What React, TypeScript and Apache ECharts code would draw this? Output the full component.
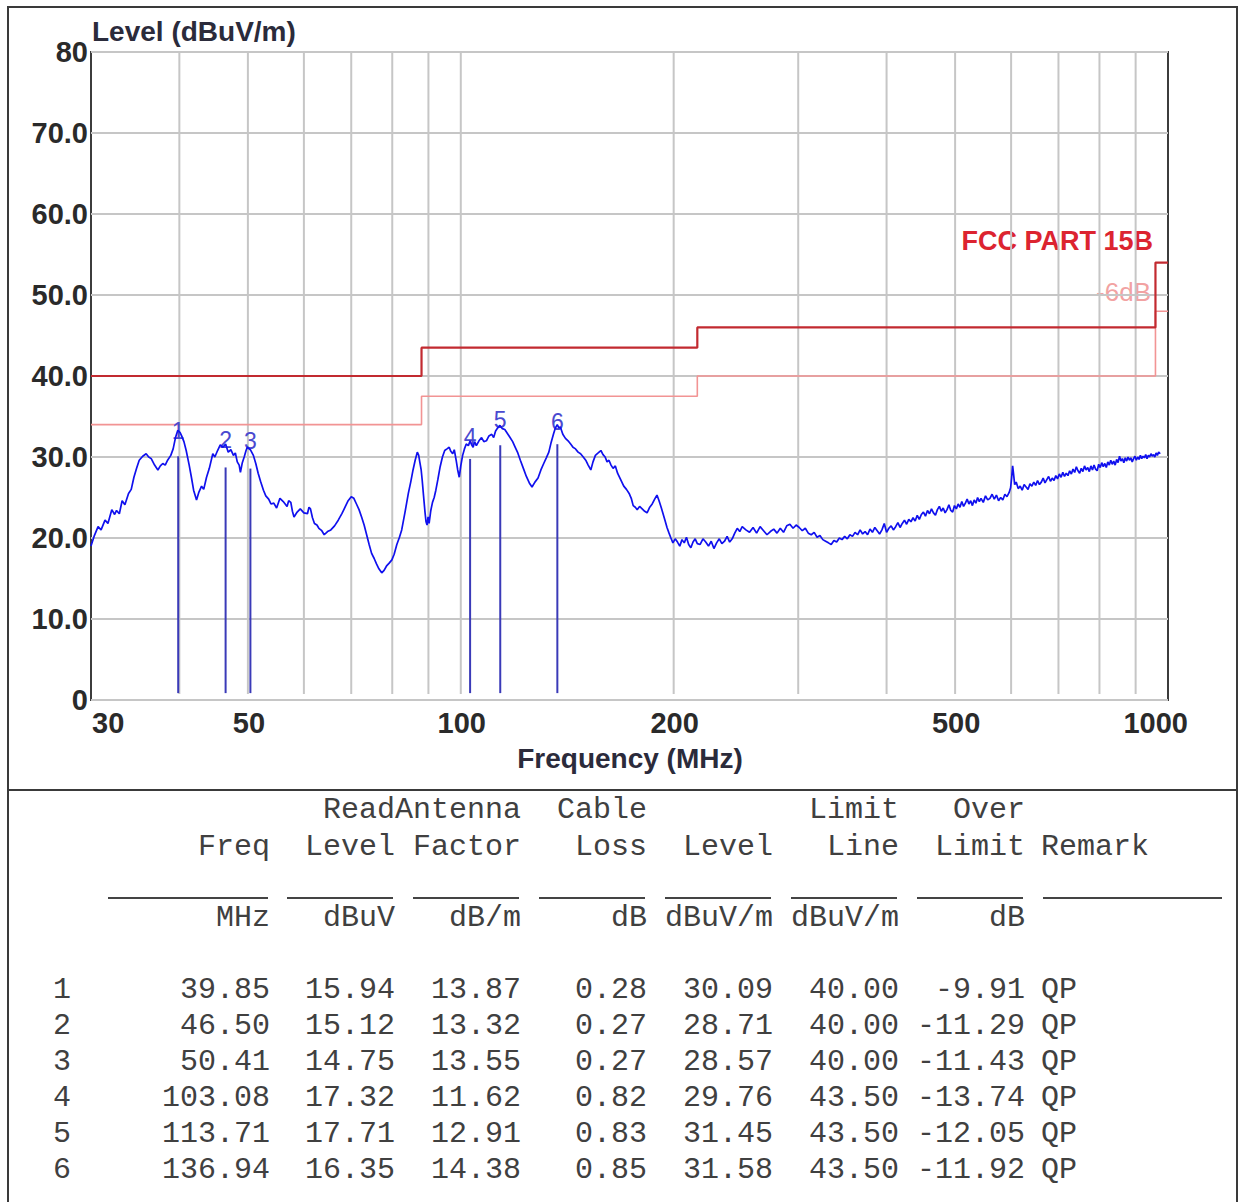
import React, { useEffect, useRef } from "react";
import * as echarts from "echarts";

// ---- trace (peak scan): [frequency MHz, level dBuV/m] ----
const tracePoints: [number, number][] = [
  [30, 19.0], [30.3, 20.2], [30.7, 21.4], [31.0, 21.0], [31.4, 22.2], [31.7, 21.8], [32.1, 23.5], [32.4, 22.9],
  [32.6, 23.4], [32.9, 23.0], [33.2, 24.6], [33.5, 24.1], [33.9, 25.5], [34.2, 26.0], [34.5, 27.5], [34.8, 28.6],
  [35.1, 29.6], [35.5, 30.1], [35.9, 30.4], [36.2, 30.0], [36.5, 29.8], [36.9, 29.0], [37.3, 28.4], [37.6, 28.9],
  [37.9, 29.2], [38.2, 29.0], [38.5, 29.6], [38.9, 30.2], [39.2, 31.0], [39.5, 32.4], [39.8, 33.3], [40.1, 33.0],
  [40.3, 32.6], [40.6, 31.9], [40.9, 30.8], [41.3, 29.0], [41.6, 27.5], [41.9, 25.9], [42.3, 24.7], [42.6, 25.6],
  [43.0, 26.4], [43.3, 26.0], [43.7, 27.5], [44.1, 28.6], [44.6, 30.4], [44.9, 30.0], [45.3, 30.8], [45.7, 31.5],
  [46.1, 31.2], [46.5, 31.6], [46.9, 30.6], [47.3, 30.9], [47.7, 30.2], [48.0, 30.5], [48.3, 29.4], [48.6, 29.0],
  [48.8, 28.1], [49.1, 29.3], [49.4, 30.0], [49.7, 30.8], [49.9, 31.2], [50.4, 30.9], [50.9, 30.2], [51.3, 29.2],
  [51.7, 28.0], [52.1, 27.0], [52.6, 25.9], [53.0, 25.2], [53.5, 24.8], [53.9, 24.2], [54.4, 24.3], [54.9, 23.7],
  [55.5, 24.9], [56.1, 24.5], [56.8, 23.9], [57.1, 24.6], [57.5, 24.4], [57.8, 23.3], [58.1, 22.6], [58.7, 23.2],
  [59.3, 23.6], [60.0, 23.1], [60.7, 23.0], [61.0, 23.8], [61.3, 23.6], [61.7, 22.5], [62.1, 21.8], [62.6, 21.6],
  [63.0, 21.2], [63.6, 20.9], [64.1, 20.4], [64.8, 20.8], [65.5, 21.0], [66.3, 21.5], [67.1, 22.2], [67.9, 23.0],
  [68.6, 23.8], [69.3, 24.6], [70.0, 25.1], [70.6, 24.9], [71.2, 24.2], [71.8, 23.5], [72.4, 22.6], [73.0, 21.6],
  [73.6, 20.4], [74.2, 19.2], [74.8, 18.1], [75.4, 17.5], [76.0, 16.8], [76.6, 16.2], [77.3, 15.7], [77.9, 16.0],
  [78.6, 16.6], [79.2, 16.9], [79.9, 17.3], [80.5, 18.0], [81.2, 19.2], [81.9, 20.1], [82.5, 21.0], [83.4, 23.2],
  [84.3, 25.5], [85.0, 27.0], [85.6, 28.4], [86.2, 29.6], [86.8, 30.6], [87.2, 30.2], [87.5, 29.4], [87.9, 28.4],
  [88.2, 27.1], [88.6, 25.1], [89.0, 23.2], [89.3, 22.0], [89.6, 21.6], [89.9, 22.6], [90.2, 21.8], [90.7, 23.4],
  [91.2, 24.4], [91.7, 25.0], [92.2, 25.9], [92.8, 27.2], [93.5, 28.8], [94.2, 30.0], [94.9, 30.8], [95.6, 31.0],
  [96.3, 31.2], [96.8, 30.7], [97.4, 30.4], [97.9, 30.9], [98.5, 29.6], [99.0, 28.4], [99.5, 27.5], [100.0, 28.9],
  [100.6, 30.2], [101.2, 31.0], [101.8, 31.6], [102.5, 31.4], [103.1, 32.0], [103.6, 31.5], [104.1, 31.2], [104.6, 31.9],
  [105.2, 31.4], [106.1, 32.0], [107.0, 32.4], [107.8, 31.9], [108.7, 32.0], [109.6, 32.6], [110.6, 32.8], [111.3, 32.4],
  [112.0, 33.2], [112.8, 33.6], [113.6, 33.9], [114.5, 33.5], [115.4, 33.4], [116.4, 32.9], [117.4, 32.4], [118.4, 31.9],
  [119.4, 31.2], [120.4, 30.5], [121.4, 29.6], [122.6, 28.6], [123.8, 27.6], [125.0, 26.8], [126.1, 26.3], [127.3, 26.9],
  [128.6, 27.4], [129.8, 28.4], [131.0, 29.2], [132.1, 29.9], [133.2, 30.6], [134.2, 31.8], [135.3, 32.9], [136.1, 33.6],
  [136.9, 34.0], [137.6, 33.6], [138.3, 33.7], [139.4, 32.8], [140.6, 32.3], [141.8, 32.0], [143.0, 31.6], [144.1, 31.2],
  [145.3, 31.0], [146.5, 30.6], [147.7, 30.4], [149.0, 30.0], [150.2, 29.6], [151.4, 29.0], [152.7, 28.4], [153.8, 29.4],
  [155.0, 30.2], [156.4, 30.5], [157.8, 30.8], [158.9, 30.3], [160.0, 30.0], [161.0, 29.4], [162.0, 29.6], [163.1, 29.0],
  [164.2, 28.6], [165.4, 28.9], [166.6, 28.0], [168.3, 27.2], [170.0, 26.4], [171.5, 26.0], [173.0, 25.5], [174.2, 24.9],
  [175.3, 24.0], [176.5, 23.8], [177.6, 23.5], [179.0, 23.9], [180.5, 23.6], [182.0, 23.3], [183.4, 23.1], [185.0, 23.8],
  [186.5, 24.2], [188.0, 24.8], [189.4, 25.3], [190.7, 24.6], [192.0, 23.8], [193.2, 23.0], [194.4, 22.2], [195.7, 21.3],
  [197.0, 20.6], [198.2, 20.0], [199.5, 19.4], [201, 19.9], [202.5, 19.5], [204, 19.0], [205.5, 19.8], [207, 19.4],
  [208.5, 20.1], [210, 19.2], [211.5, 18.8], [213, 19.5], [214.5, 19.9], [216, 19.3], [218, 19.2], [220, 19.9],
  [222, 19.5], [224, 19.0], [226, 19.6], [228, 18.7], [230, 19.4], [232, 19.9], [234, 19.3], [236, 19.6],
  [238, 20.2], [240, 19.5], [242, 19.9], [244, 20.6], [246, 21.2], [248, 20.8], [250, 21.4], [253, 21.0],
  [256, 20.7], [259, 21.3], [262, 20.6], [265, 21.4], [268, 20.9], [271, 20.4], [274, 20.8], [277, 21.1],
  [280, 20.6], [283, 21.2], [286, 20.7], [289, 21.5], [292, 21.7], [295, 21.2], [298, 21.6], [301, 21.3],
  [304, 20.9], [307, 21.2], [310, 20.6], [313, 20.4], [316, 20.7], [319, 20.1], [322, 20.3], [325, 19.8],
  [328, 19.6], [331, 19.4], [334, 19.2], [337, 19.7], [340, 19.5], [343, 20.0], [346, 19.8], [349, 20.2],
  [352, 19.9], [355, 20.4], [358, 20.2], [361, 20.7], [364, 20.4], [367, 21.0], [370, 20.5], [373, 20.8],
  [376, 20.4], [379, 21.1], [382, 20.7], [385, 21.3], [388, 20.9], [391, 20.5], [394, 21.0], [397, 21.8],
  [400, 20.7], [403, 21.2], [406, 21.5], [409, 21.0], [412, 21.4], [415, 21.9], [418, 21.3], [421, 21.8],
  [424, 22.2], [427, 21.7], [430, 22.3], [433, 22.0], [436, 22.5], [439, 22.1], [442, 22.8], [445, 22.3],
  [448, 22.9], [451, 23.2], [454, 22.7], [457, 23.4], [460, 23.0], [463, 23.6], [466, 23.1], [469, 22.8],
  [472, 23.5], [475, 23.9], [478, 23.3], [481, 23.7], [484, 23.1], [487, 23.5], [490, 24.1], [493, 23.4],
  [496, 23.2], [499, 24.0], [502, 23.6], [505, 24.2], [508, 23.8], [511, 24.5], [514, 23.9], [517, 24.3],
  [520, 24.8], [523, 24.2], [526, 24.6], [529, 24.0], [532, 24.7], [535, 24.3], [538, 25.0], [541, 24.5],
  [544, 24.9], [548, 24.4], [552, 25.2], [556, 24.7], [560, 24.9], [564, 25.4], [568, 24.8], [572, 25.3],
  [576, 24.6], [580, 25.0], [584, 24.7], [588, 25.4], [592, 25.1], [596, 25.6], [599, 26.2], [601, 27.4],
  [603, 28.9], [605, 27.8], [607, 26.6], [610, 26.9], [614, 26.1], [618, 26.4], [622, 25.9], [626, 26.6],
  [630, 26.3], [634, 26.0], [638, 26.7], [642, 26.4], [646, 26.9], [650, 26.5], [654, 27.1], [658, 26.6],
  [662, 26.9], [666, 27.4], [670, 26.8], [674, 27.2], [678, 27.6], [682, 27.0], [686, 27.4], [690, 27.1],
  [694, 27.7], [698, 27.3], [702, 27.9], [706, 27.5], [710, 28.1], [714, 27.6], [718, 28.0], [722, 27.7],
  [726, 28.3], [730, 27.9], [734, 28.5], [738, 28.1], [742, 28.8], [746, 28.3], [750, 28.0], [754, 28.6],
  [758, 28.2], [762, 28.9], [766, 28.4], [770, 28.7], [774, 28.2], [778, 28.9], [782, 28.4], [786, 29.0],
  [790, 28.5], [794, 28.3], [798, 29.1], [802, 28.7], [806, 29.3], [810, 28.8], [814, 29.2], [818, 28.7],
  [822, 29.4], [826, 29.0], [830, 29.6], [834, 29.1], [838, 29.5], [842, 29.0], [846, 29.7], [850, 29.3],
  [854, 30.1], [858, 29.5], [862, 29.8], [866, 29.3], [870, 29.9], [874, 29.5], [878, 30.0], [882, 29.6],
  [886, 29.9], [890, 29.4], [894, 29.8], [898, 30.1], [902, 29.6], [906, 30.0], [910, 29.7], [914, 30.2],
  [918, 29.8], [922, 30.1], [926, 29.9], [930, 30.3], [934, 29.8], [938, 30.2], [942, 30.0], [946, 30.4],
  [950, 30.1], [954, 30.3], [958, 30.0], [962, 30.5], [966, 30.2], [970, 30.6], [975, 30.4],
];

// ---- limit lines ----
const limitFreq = [30, 88, 216, 960, 1000];
const fccLimit = [40, 43.5, 46, 54, 54];
const marginLimit = [34, 37.5, 40, 48, 48];

// ---- axes ----
const gridFreqs = [40, 50, 60, 70, 80, 90, 100, 200, 300, 400, 500, 600, 700, 800, 900];
const xTickLabels = [30, 50, 100, 200, 500, 1000];
const yTickLabels = ["0", "10.0", "20.0", "30.0", "40.0", "50.0", "60.0", "70.0", "80"];

// ---- measured points (table) ----
const markerNo = [1, 2, 3, 4, 5, 6];
const markerFreq = [39.85, 46.5, 50.41, 103.08, 113.71, 136.94];
const readLevel = [15.94, 15.12, 14.75, 17.32, 17.71, 16.35];
const antennaFactor = [13.87, 13.32, 13.55, 11.62, 12.91, 14.38];
const cableLoss = [0.28, 0.27, 0.27, 0.82, 0.83, 0.85];
const markerLevel = [30.09, 28.71, 28.57, 29.76, 31.45, 31.58];
const limitLine = [40.0, 40.0, 40.0, 43.5, 43.5, 43.5];
const overLimit = [-9.91, -11.29, -11.43, -13.74, -12.05, -11.92];
const remark = ["QP", "QP", "QP", "QP", "QP", "QP"];
const markerPeak = [33.2, 32.1, 32.0, 32.5, 34.6, 34.3];

const SANS = '"Liberation Sans", Arial, sans-serif';
const MONO = '"Liberation Mono", "Courier New", monospace';

export default function App() {
  const ref = useRef<HTMLDivElement>(null);

  useEffect(() => {
    if (!ref.current) return;
    const chart = echarts.init(ref.current, undefined, { renderer: "svg" });

    const graphics: any[] = [];
    graphics.push({
      type: "rect",
      shape: { x: 8, y: 7, width: 1229, height: 1215 },
      style: { fill: "transparent", stroke: "#3a3a3a", lineWidth: 2 },
      silent: true,
    });
    graphics.push({
      type: "line",
      shape: { x1: 8, y1: 790, x2: 1237, y2: 790 },
      style: { stroke: "#3a3a3a", lineWidth: 2 },
      silent: true,
    });
    graphics.push({
      type: "text",
      x: 92,
      y: 31,
      style: {
        text: "Level (dBuV/m)",
        fontFamily: SANS,
        fontWeight: "bold",
        fontSize: 28,
        fill: "#2b2b3b",
        align: "left",
        verticalAlign: "middle",
      },
    });
    graphics.push({
      type: "text",
      x: 630,
      y: 758,
      style: {
        text: "Frequency (MHz)",
        fontFamily: SANS,
        fontWeight: "bold",
        fontSize: 28,
        fill: "#2b2b3b",
        align: "center",
        verticalAlign: "middle",
      },
    });
    graphics.push({
      type: "text",
      x: 1153,
      y: 241,
      style: {
        text: "FCC PART 15B",
        fontFamily: SANS,
        fontWeight: "bold",
        fontSize: 27,
        fill: "#dc2430",
        align: "right",
        verticalAlign: "middle",
      },
    });
    graphics.push({
      type: "text",
      x: 1151,
      y: 292,
      style: {
        text: "-6dB",
        fontFamily: SANS,
        fontWeight: "normal",
        fontSize: 26,
        fill: "#f2a2a2",
        align: "right",
        verticalAlign: "middle",
      },
    });

    // table
    const colRight = [268, 393, 519, 645, 771, 897, 1023];
    const addText = (text: string, x: number, y: number, align: string) =>
      graphics.push({
        type: "text",
        x,
        y,
        style: {
          text,
          fontFamily: MONO,
          fontSize: 30,
          fill: "#404040",
          align,
          verticalAlign: "middle",
        },
      });
    const hdr1: [string, number][] = [
      ["ReadAntenna", 2],
      ["Cable", 3],
      ["Limit", 5],
      ["Over", 6],
    ];
    hdr1.forEach(([t, c]) => addText(t, colRight[c] + 2, 810, "right"));
    const hdr2 = ["Freq", "Level", "Factor", "Loss", "Level", "Line", "Limit"];
    hdr2.forEach((t, c) => addText(t, colRight[c] + 2, 847, "right"));
    addText("Remark", 1041, 847, "left");
    const units = ["MHz", "dBuV", "dB/m", "dB", "dBuV/m", "dBuV/m", "dB"];
    units.forEach((t, c) => addText(t, colRight[c] + 2, 918, "right"));
    const rules: [number, number][] = [
      [108, 268], [287, 393], [413, 519], [539, 645], [665, 771], [791, 897], [917, 1023], [1043, 1222],
    ];
    rules.forEach(([a, b]) =>
      graphics.push({
        type: "line",
        shape: { x1: a, y1: 898, x2: b, y2: 898 },
        style: { stroke: "#444", lineWidth: 2 },
        silent: true,
      })
    );
    markerNo.forEach((n, i) => {
      const y = 990 + i * 36;
      addText(String(n), 62, y, "center");
      const cells = [
        markerFreq[i], readLevel[i], antennaFactor[i], cableLoss[i],
        markerLevel[i], limitLine[i], overLimit[i],
      ];
      cells.forEach((v, c) => addText(v.toFixed(2), colRight[c] + 2, y, "right"));
      addText(remark[i], 1041, y, "left");
    });

    const option: any = {
      animation: false,
      backgroundColor: "#ffffff",
      grid: {
        left: 91,
        top: 52,
        width: 1077,
        height: 648,
        show: true,
        borderColor: "#3c3c3c",
        borderWidth: 2,
        backgroundColor: "transparent",
      },
      xAxis: {
        type: "log",
        logBase: 10,
        min: 30,
        max: 1000,
        axisLine: { show: false },
        axisTick: { show: false },
        axisLabel: { show: false },
        splitLine: { show: false },
        minorSplitLine: { show: false },
      },
      yAxis: {
        type: "value",
        min: 0,
        max: 80,
        interval: 10,
        axisLine: { show: false },
        axisTick: { show: false },
        splitLine: { show: true, lineStyle: { color: "#c6c6c6", width: 2 } },
        axisLabel: {
          margin: 3,
          fontFamily: SANS,
          fontWeight: "bold",
          fontSize: 29,
          color: "#2a2a2a",
          formatter: (v: number) => yTickLabels[Math.round(v / 10)],
        },
      },
      series: [
        {
          type: "custom",
          name: "grid",
          z: 1,
          silent: true,
          data: gridFreqs.map((f) => [f, 0]),
          encode: { x: 0, y: 1 },
          renderItem: (_p: any, api: any) => {
            const f = api.value(0);
            const a = api.coord([f, 0]);
            const b = api.coord([f, 80]);
            return {
              type: "line",
              shape: { x1: a[0], y1: a[1] - 6, x2: b[0], y2: b[1] },
              style: { stroke: "#c6c6c6", lineWidth: 2 },
            };
          },
        },
        {
          type: "custom",
          name: "xlabels",
          z: 3,
          silent: true,
          clip: false,
          data: xTickLabels.map((f) => [f, 0]),
          encode: { x: 0, y: 1 },
          renderItem: (p: any, api: any) => {
            const f = api.value(0);
            const a = api.coord([f, 0]);
            const last = p.dataIndex === xTickLabels.length - 1;
            const first = p.dataIndex === 0;
            return {
              type: "text",
              x: first ? a[0] + 1 : last ? a[0] + 20 : a[0] + 1,
              y: a[1] + 23,
              style: {
                text: String(f),
                fontFamily: SANS,
                fontWeight: "bold",
                fontSize: 29,
                fill: "#2a2a2a",
                align: first ? "left" : last ? "right" : "center",
                verticalAlign: "middle",
              },
            };
          },
        },
        {
          type: "line",
          name: "-6dB",
          z: 4,
          step: "end",
          symbol: "none",
          data: limitFreq.map((f, i) => [f, marginLimit[i]]),
          lineStyle: { color: "#f29494", width: 1.6 },
        },
        {
          type: "line",
          name: "FCC PART 15B",
          z: 5,
          step: "end",
          symbol: "none",
          data: limitFreq.map((f, i) => [f, fccLimit[i]]),
          lineStyle: { color: "#c22a30", width: 2.2 },
        },
        {
          type: "custom",
          name: "markers",
          z: 6,
          data: markerFreq.map((f, i) => [f, markerLevel[i], markerPeak[i], markerNo[i]]),
          encode: { x: 0, y: 1 },
          renderItem: (_p: any, api: any) => {
            const f = api.value(0);
            const lv = api.value(1);
            const pk = api.value(2);
            const n = api.value(3);
            const a = api.coord([f, 0.85]);
            const b = api.coord([f, lv]);
            const c = api.coord([f, pk]);
            return {
              type: "group",
              children: [
                {
                  type: "line",
                  shape: { x1: a[0], y1: a[1], x2: b[0], y2: b[1] },
                  style: { stroke: "#3a3ab8", lineWidth: 2 },
                },
                {
                  type: "text",
                  x: c[0],
                  y: c[1],
                  style: {
                    text: String(n),
                    fontFamily: SANS,
                    fontSize: 23,
                    fill: "#4a4ad0",
                    align: "center",
                    verticalAlign: "middle",
                  },
                },
              ],
            };
          },
        },
        {
          type: "line",
          name: "trace",
          z: 7,
          symbol: "none",
          data: tracePoints,
          lineStyle: { color: "#1010ee", width: 1.7 },
        },
      ],
      graphic: graphics,
    };

    chart.setOption(option);
    return () => chart.dispose();
  }, []);

  return (
    <div
      ref={ref}
      style={{ position: "absolute", left: 0, top: 0, width: 1245, height: 1202, background: "#fff" }}
    />
  );
}
